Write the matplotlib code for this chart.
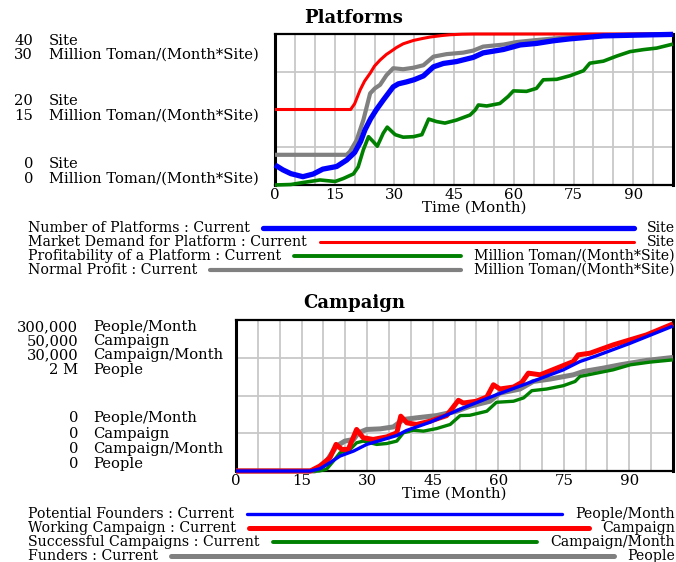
import numpy as np
import matplotlib
matplotlib.use("Agg")
import matplotlib.pyplot as plt

plt.rcParams['font.family'] = ['DejaVu Serif']

W, H = 676, 562

# ---------------- Platforms ----------------
platforms_t = [0, 2, 4, 7, 9.6, 12, 15.5, 18, 20, 21.5, 22.6, 24, 25.5, 27.2, 29.7, 31, 33, 35,
               37.3, 39.8, 42.3, 45.6, 49.8, 52.3, 57.4, 61.6, 65.7, 69.9, 74, 78.3, 82.5, 90.8, 100]
platforms_v = [5.3, 4.0, 3.0, 2.2, 2.9, 4.2, 4.9, 6.6, 8.6, 11.5, 14.6, 17.5, 20.0, 22.5, 26.0, 26.8,
               27.3, 27.9, 28.9, 31.3, 32.2, 32.7, 33.8, 35.0, 35.9, 37.1, 37.5, 38.2, 38.7, 39.1,
               39.5, 39.7, 39.9]

demand_t = [0, 19, 20, 21.4, 22.5, 23.9, 25, 26.4, 28, 29, 30.5, 32.2, 34.8, 37, 39, 42, 44, 47, 50, 100]
demand_v = [20, 20, 21.5, 25.2, 27.5, 29.6, 31.5, 33.1, 34.6, 35.3, 36.4, 37.4, 38.3, 38.8, 39.2,
            39.6, 39.8, 39.95, 40, 40]

profit_t = [0, 4, 7.1, 11.3, 15.1, 17.2, 19.7, 20.9, 22.2, 23.5, 24.7, 25.7, 27.2, 28.2, 30.2, 32.2,
            34.8, 36.9, 38.6, 40.6, 42.7, 45.6, 49, 50.3, 51.1, 53.2, 56.5, 58.6, 59.9, 63.2, 65.7,
            67.4, 70.8, 74.1, 77.5, 79.1, 82.5, 85.8, 89.2, 92.6, 95.9, 100]
profit_v = [0, 0.1, 0.5, 1.0, 0.7, 1.3, 2.2, 3.6, 7.0, 9.6, 8.6, 7.7, 10.3, 11.5, 10.0, 9.5, 9.6, 10.0,
            13.1, 12.6, 12.3, 12.9, 13.9, 14.9, 15.9, 15.7, 16.2, 17.6, 18.7, 18.6, 19.2, 20.9, 21.0,
            21.7, 22.7, 24.2, 24.6, 25.6, 26.5, 26.9, 27.2, 28.0]

normal_t = [0, 18, 18.8, 20.5, 22.2, 23.9, 25.1, 26.4, 28, 29.7, 32.2, 34.8, 37.3, 39.8, 43.1, 47.3,
            49.8, 52.3, 57.4, 60.7, 65.7, 69.9, 75, 80, 90, 100]
normal_v = [6, 6, 6.6, 8.9, 12.9, 18.2, 19.2, 19.9, 21.8, 23.2, 23.0, 23.3, 23.8, 25.5, 26.0, 26.3,
            26.7, 27.5, 27.9, 28.4, 28.8, 29.1, 29.4, 29.6, 29.85, 30]

# ---------------- Campaign ----------------
founders_t = [0, 17, 19.2, 21.5, 23.8, 26.9, 29.9, 33, 36.8, 39, 44.4, 52, 59.6, 67.3, 74.9, 78.7,
              82.5, 90.2, 100]
founders_v = [0, 0, 4500, 16500, 29700, 39600, 52800, 60600, 70500, 80400, 96900, 125400, 151500,
              176100, 201000, 217500, 228900, 253800, 288000]

working_t = [0, 17, 19.2, 21.5, 22.9, 24.2, 25.7, 27.6, 29.1, 31.4, 34.5, 36.8, 37.7, 39.1, 41.3,
             44.4, 48.2, 50.9, 52, 55, 57.4, 58.9, 60.4, 63.5, 65.4, 66.9, 69.6, 73.4, 77.2, 78.3,
             81, 86.3, 93.9, 100]
working_v = [0, 0, 1650, 4400, 8800, 7150, 7150, 13750, 11000, 10450, 11300, 12650, 18150, 15950,
             15400, 16500, 18350, 23400, 22500, 23100, 24500, 28550, 27150, 27800, 29350, 32400,
             31850, 34050, 36250, 38450, 39000, 41750, 45050, 48700]

success_t = [0, 19, 20.7, 22.3, 23.8, 26.1, 27.6, 29.1, 32.2, 34.5, 36.8, 38.3, 40.6, 42.9, 45.9, 49,
             51.3, 53.5, 57.4, 59.6, 63.5, 65.8, 67.7, 71.1, 74.9, 77.6, 78.7, 82.5, 86.3, 90.2,
             94.7, 100]
success_v = [0, 0, 330, 1980, 3630, 4290, 5610, 5940, 5280, 5460, 5940, 7590, 8100, 7920, 8430, 9240,
             11010, 11070, 11880, 13650, 13860, 14520, 15960, 16290, 16950, 17790, 18780, 19440,
             20100, 21090, 21630, 22080]

funders_t = [0, 18, 20, 21.5, 23, 24.9, 26.9, 28, 29.9, 33, 36, 38.3, 41.3, 45.9, 50.5, 53.5, 58.1,
             60.4, 65, 68, 71.9, 77.2, 79.5, 84, 87.9, 93.9, 100]
funders_v = [0, 0, 66000, 198000, 330000, 396000, 418000, 506000, 550000, 558000, 584000, 682000,
             704000, 734000, 792000, 858000, 924000, 1032000, 1086000, 1186000, 1218000, 1274000,
             1318000, 1362000, 1406000, 1464000, 1504000]

x_ticks = [0, 15, 30, 45, 60, 75, 90]

BLUE, RED, GREEN, GRAY = '#0000ff', '#ff0000', '#008000', '#808080'
GRID = '#c8c8c8'
FS_LEG = 10.2     # legend rows
FS_LBL = 10.6     # scale labels at the left
FS_TICK = 10.8    # tick labels and axis label
FS_TITLE = 13


def fx(x):
    return x / W


def fy(y):
    return 1 - y / H


fig = plt.figure(figsize=(W / 100, H / 100), dpi=100)


def make_panel(left, top, right, bottom):
    ax = fig.add_axes([fx(left), fy(bottom), fx(right - left), (bottom - top) / H])
    ax.set_xlim(0, 100)
    ax.set_ylim(0, 1)
    ax.set_xticks(x_ticks)
    ax.set_xticklabels([str(v) for v in x_ticks], fontsize=FS_TICK)
    ax.set_xticks(np.arange(0, 101, 5), minor=True)
    ax.set_yticks([0.25, 0.5, 0.75])
    ax.set_yticklabels([])
    ax.tick_params(length=0, which='both', pad=2)
    ax.grid(True, which='both', axis='x', color=GRID, lw=1.3)
    ax.grid(True, which='major', axis='y', color=GRID, lw=1.3)
    ax.set_axisbelow(True)
    for s in ('left', 'right'):
        ax.spines[s].set_linewidth(2.2)
    for s in ('top', 'bottom'):
        ax.spines[s].set_linewidth(1.6)
    ax.set_xlabel('Time (Month)', fontsize=FS_TICK, labelpad=-1)
    return ax


def series_axis(base, ymax):
    a = base.twinx()
    a.set_ylim(0, ymax)
    a.set_xlim(0, 100)
    a.set_yticks([])
    for s in a.spines.values():
        s.set_visible(False)
    return a


def draw_legend(rows, y0, dy):
    r = fig.canvas.get_renderer()
    for i, (label, unit, color, lw) in enumerate(rows):
        y = fy(y0 + i * dy)
        t1 = fig.text(fx(28), y, label, fontsize=FS_LEG, va='center', ha='left')
        t2 = fig.text(fx(675), y, unit, fontsize=FS_LEG, va='center', ha='right')
        e1 = t1.get_window_extent(r)
        e2 = t2.get_window_extent(r)
        x_start = (e1.x1 + 13) / W
        x_end = (e2.x0 - 13) / W
        fig.add_artist(plt.Line2D([x_start, x_end], [y, y], color=color, lw=lw,
                                  solid_capstyle='round', transform=fig.transFigure))


# ---- top panel ----
ax1 = make_panel(275, 34, 673, 185)
fig.text(fx(354), fy(18), 'Platforms', fontsize=FS_TITLE, fontweight='bold', ha='center', va='center')
a_norm = series_axis(ax1, 30)
a_prof = series_axis(ax1, 30)
a_dem = series_axis(ax1, 40)
a_num = series_axis(ax1, 40)
a_norm.plot(normal_t, normal_v, color=GRAY, lw=3.0, clip_on=False, solid_capstyle='butt')
a_prof.plot(profit_t, profit_v, color=GREEN, lw=2.6, clip_on=False, solid_capstyle='butt')
a_dem.plot(demand_t, demand_v, color=RED, lw=2.2, clip_on=False, solid_capstyle='butt')
a_num.plot(platforms_t, platforms_v, color=BLUE, lw=3.8, clip_on=False, solid_capstyle='butt')

left_labels_top = [(41, '40', 'Site'), (55, '30', 'Million Toman/(Month*Site)'),
                   (101, '20', 'Site'), (116, '15', 'Million Toman/(Month*Site)'),
                   (164, '0', 'Site'), (179, '0', 'Million Toman/(Month*Site)')]
for y, num, unit in left_labels_top:
    fig.text(fx(33), fy(y), num, fontsize=FS_LBL, ha='right', va='center')
    fig.text(fx(49), fy(y), unit, fontsize=FS_LBL, ha='left', va='center')

draw_legend([('Number of Platforms : Current', 'Site', BLUE, 3.8),
             ('Market Demand for Platform : Current', 'Site', RED, 2.2),
             ('Profitability of a Platform : Current', 'Million Toman/(Month*Site)', GREEN, 2.8),
             ('Normal Profit : Current', 'Million Toman/(Month*Site)', GRAY, 3.0)], 228, 14)

# ---- bottom panel ----
ax2 = make_panel(236, 320, 673, 471)
fig.text(fx(354), fy(303), 'Campaign', fontsize=FS_TITLE, fontweight='bold', ha='center', va='center')
b_fund = series_axis(ax2, 2_000_000)
b_succ = series_axis(ax2, 30_000)
b_work = series_axis(ax2, 50_000)
b_pot = series_axis(ax2, 300_000)
b_fund.plot(funders_t, funders_v, color=GRAY, lw=3.6, clip_on=False, solid_capstyle='butt')
b_succ.plot(success_t, success_v, color=GREEN, lw=2.4, clip_on=False, solid_capstyle='butt')
b_work.plot(working_t, working_v, color=RED, lw=3.6, clip_on=False, solid_capstyle='butt')
b_pot.plot(founders_t, founders_v, color=BLUE, lw=2.4, clip_on=False, solid_capstyle='butt')

left_labels_bottom = [(327, '300,000', 'People/Month'), (341, '50,000', 'Campaign'),
                      (355, '30,000', 'Campaign/Month'), (370, '2 M', 'People'),
                      (418, '0', 'People/Month'), (434, '0', 'Campaign'),
                      (449, '0', 'Campaign/Month'), (464, '0', 'People')]
for y, num, unit in left_labels_bottom:
    fig.text(fx(78), fy(y), num, fontsize=FS_LBL, ha='right', va='center')
    fig.text(fx(93), fy(y), unit, fontsize=FS_LBL, ha='left', va='center')

draw_legend([('Potential Founders : Current', 'People/Month', BLUE, 2.4),
             ('Working Campaign : Current', 'Campaign', RED, 3.6),
             ('Successful Campaigns : Current', 'Campaign/Month', GREEN, 2.8),
             ('Funders : Current', 'People', GRAY, 3.6)], 514, 14)

fig.savefig('out.png', dpi=100)
